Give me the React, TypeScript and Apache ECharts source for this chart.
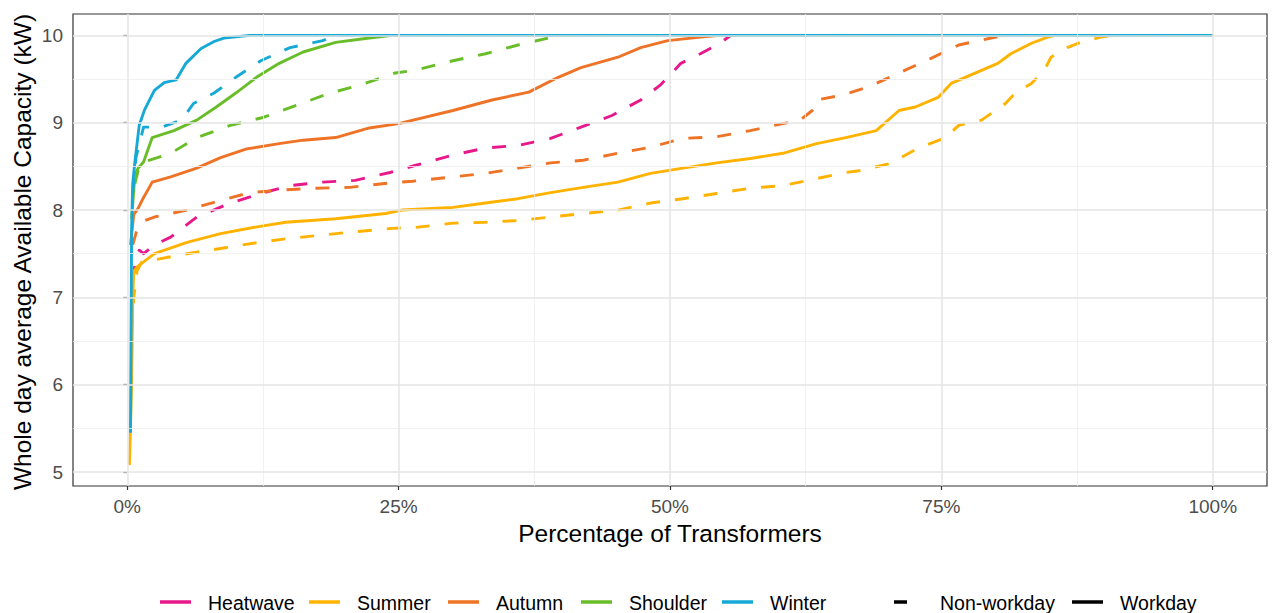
import React, { useEffect, useRef } from "react";
import * as echarts from "echarts";

type Pt = [number, number];

const xTickValues = [0, 25, 50, 75, 100];
const xMinorValues = [12.5, 37.5, 62.5, 87.5];
const yTickValues = [5, 6, 7, 8, 9, 10];
const yMinorValues = [5.5, 6.5, 7.5, 8.5, 9.5];

const heatwaveNonWorkday: Pt[] = [[0.5,7.2],[0.8,7.45],[1.1,7.54],[1.5,7.5],[2.5,7.6],[4.0,7.69],[6.4,7.92],[9.5,8.08],[12.3,8.19],[15,8.28],[18,8.32],[21,8.34],[24.2,8.43],[26.5,8.51],[30,8.63],[33,8.71],[36,8.74],[39,8.82],[41.8,8.95],[44.6,9.08],[47.3,9.26],[49.1,9.43],[51,9.68],[52.8,9.79],[54.6,9.91],[55.6,10],[100,10]];

const summerWorkday: Pt[] = [[0.2,5.08],[0.4,6.0],[0.5,7.0],[0.6,7.3],[0.9,7.35],[2.5,7.5],[5.5,7.63],[8.6,7.73],[11.6,7.8],[14.6,7.86],[19.2,7.9],[23.8,7.96],[25.3,8.0],[30,8.03],[33,8.08],[36,8.13],[39,8.2],[42,8.26],[45.2,8.32],[48.2,8.42],[51.2,8.48],[54.3,8.54],[57.4,8.59],[60.4,8.65],[63.5,8.76],[66.2,8.83],[69,8.91],[71.1,9.14],[72.6,9.18],[74.7,9.29],[75.9,9.45],[78.7,9.6],[80.2,9.68],[81.4,9.79],[83.3,9.91],[84.8,9.98],[85.5,10],[100,10]];

const summerNonWorkday: Pt[] = [[0.4,6.6],[0.6,7.0],[0.9,7.3],[1.3,7.4],[2.5,7.43],[5.5,7.5],[8.6,7.56],[11.6,7.62],[14.6,7.67],[17.7,7.71],[20.8,7.75],[24.4,7.79],[26.5,7.8],[30,7.85],[33,7.86],[36,7.88],[39,7.92],[42,7.96],[45.2,8.0],[48.2,8.08],[51.2,8.13],[54.3,8.19],[57.4,8.25],[60.4,8.28],[63.5,8.36],[66.2,8.43],[67.4,8.45],[70.2,8.53],[72.9,8.71],[75.4,8.83],[76.6,8.97],[78.7,9.03],[80.9,9.22],[81.8,9.34],[83.3,9.45],[84.5,9.6],[85.1,9.75],[86.6,9.86],[87.8,9.92],[89.7,9.98],[90.9,10],[100,10]];

const autumnWorkday: Pt[] = [[0.3,7.6],[0.6,7.95],[1.0,8.02],[1.4,8.12],[2.3,8.32],[4.0,8.38],[6.4,8.48],[8.6,8.6],[11,8.7],[14,8.76],[16.2,8.8],[19.2,8.83],[22.3,8.94],[25,8.99],[30,9.14],[33.6,9.26],[37,9.35],[39.7,9.52],[41.8,9.63],[45.2,9.75],[47.3,9.86],[49.8,9.94],[52.8,9.98],[54.6,10],[100,10]];

const autumnNonWorkday: Pt[] = [[0.5,7.6],[1.0,7.82],[1.6,7.88],[2.5,7.92],[5.5,8.0],[8.6,8.11],[11.3,8.2],[14.4,8.23],[17.4,8.25],[20.5,8.26],[24.2,8.31],[26.3,8.33],[30,8.38],[33,8.42],[36,8.48],[39,8.54],[42,8.57],[45.2,8.65],[48.2,8.72],[51.2,8.82],[54.3,8.84],[57.4,8.91],[60.4,8.99],[62,9.03],[63.1,9.14],[63.5,9.26],[65.6,9.31],[66.5,9.34],[68.3,9.41],[71.1,9.57],[74.1,9.74],[76.6,9.89],[79.6,9.97],[80.9,10],[100,10]];

const shoulderWorkday: Pt[] = [[0.4,7.9],[0.7,8.4],[1.0,8.48],[1.5,8.55],[2.3,8.83],[4.3,8.91],[6.4,9.03],[8.2,9.18],[10.0,9.34],[11.9,9.52],[14.0,9.68],[16.2,9.81],[19.2,9.92],[22.3,9.97],[24.4,10],[100,10]];

const shoulderNonWorkday: Pt[] = [[0.7,8.3],[1.0,8.45],[1.3,8.54],[4.0,8.65],[6.4,8.83],[9.5,8.97],[12.5,9.06],[15.6,9.2],[18.7,9.34],[21.4,9.43],[24.7,9.57],[26.5,9.6],[30,9.71],[33,9.79],[36,9.89],[38.8,9.97],[39.8,10],[100,10]];

const winterWorkday: Pt[] = [[0.3,5.45],[0.4,7.8],[0.5,8.3],[0.7,8.55],[1.1,8.97],[1.6,9.15],[2.5,9.37],[3.4,9.46],[4.5,9.49],[5.4,9.68],[6.8,9.85],[8.0,9.93],[8.9,9.97],[11.3,10],[100,10]];

const winterNonWorkday: Pt[] = [[0.5,8.2],[0.8,8.6],[1.1,8.75],[1.5,8.95],[3.2,8.95],[5.0,9.03],[6.1,9.22],[8.0,9.34],[10.0,9.52],[12.3,9.71],[15.0,9.86],[18.0,9.94],[19.2,10],[100,10]];

const seasonNames = ["Heatwave", "Summer", "Autumn", "Shoulder", "Winter"];
const seasonColors = ["#E7198A", "#FFB300", "#EE7326", "#69BD28", "#17A9D5"];
const dayTypeNames = ["Non-workday", "Workday"];

const FONT = "'Liberation Sans', Arial, Helvetica, sans-serif";
const DASH = [14, 15];

export default function App() {
  const ref = useRef<HTMLDivElement>(null);

  useEffect(() => {
    if (!ref.current) return;
    const chart = echarts.init(ref.current, undefined, { renderer: "svg" });

    const mk = (name: string, data: Pt[], color: string, dashed: boolean) => ({
      type: "line",
      name,
      data,
      showSymbol: false,
      symbol: "none",
      z: 3,
      lineStyle: { color, width: 2.9, type: dashed ? DASH : "solid", cap: "butt", join: "round" },
      silent: true,
    });

    const gridLines: any[] = [];
    xMinorValues.forEach((v) => gridLines.push({ xAxis: v, lineStyle: { color: "#EEEEEE", width: 0.8, type: "solid" } }));
    yMinorValues.forEach((v) => gridLines.push({ yAxis: v, lineStyle: { color: "#EEEEEE", width: 0.8, type: "solid" } }));
    xTickValues.forEach((v) => gridLines.push({ xAxis: v, lineStyle: { color: "#E4E4E4", width: 1.5, type: "solid" } }));
    yTickValues.forEach((v) => gridLines.push({ yAxis: v, lineStyle: { color: "#E4E4E4", width: 1.5, type: "solid" } }));

    const legendY = 602;
    const legendFont = 19.5;
    const legendKeys: any[] = [];
    const seasonTextX = [208, 357, 496, 629, 770];
    seasonNames.forEach((n, i) => {
      const kx = seasonTextX[i] - 48;
      legendKeys.push({
        type: "line",
        shape: { x1: kx, y1: legendY, x2: kx + 31, y2: legendY },
        style: { stroke: seasonColors[i], lineWidth: 3.5 },
      });
      legendKeys.push({
        type: "text",
        x: seasonTextX[i],
        y: legendY + 1,
        style: { text: n, fontSize: legendFont, fontFamily: FONT, fill: "#000", align: "left", verticalAlign: "middle" },
      });
    });
    legendKeys.push({
      type: "line",
      shape: { x1: 894, y1: legendY, x2: 907, y2: legendY },
      style: { stroke: "#000", lineWidth: 3.5 },
    });
    legendKeys.push({
      type: "text",
      x: 940,
      y: legendY + 1,
      style: { text: dayTypeNames[0], fontSize: legendFont, fontFamily: FONT, fill: "#000", align: "left", verticalAlign: "middle" },
    });
    legendKeys.push({
      type: "line",
      shape: { x1: 1072, y1: legendY, x2: 1103, y2: legendY },
      style: { stroke: "#000", lineWidth: 3.5 },
    });
    legendKeys.push({
      type: "text",
      x: 1120,
      y: legendY + 1,
      style: { text: dayTypeNames[1], fontSize: legendFont, fontFamily: FONT, fill: "#000", align: "left", verticalAlign: "middle" },
    });

    const option: any = {
      animation: false,
      backgroundColor: "#ffffff",
      grid: {
        left: 73,
        top: 14,
        right: 7,
        bottom: 127,
        show: true,
        borderColor: "#333333",
        borderWidth: 1.2,
        backgroundColor: "#ffffff",
        containLabel: false,
      },
      xAxis: {
        type: "value",
        min: -5,
        max: 105,
        axisLine: { show: false },
        splitLine: { show: false },
        axisTick: { show: true, customValues: xTickValues, length: 4, lineStyle: { color: "#333333", width: 1.2 } },
        axisLabel: {
          customValues: xTickValues,
          formatter: (v: number) => `${v}%`,
          color: "#4D4D4D",
          fontSize: 19,
          fontFamily: FONT,
          margin: 11,
        },
      },
      yAxis: {
        type: "value",
        min: 4.84,
        max: 10.245,
        axisLine: { show: false },
        splitLine: { show: false },
        axisTick: { show: true, customValues: yTickValues, length: 4, lineStyle: { color: "#333333", width: 1.2 } },
        axisLabel: {
          customValues: yTickValues,
          color: "#4D4D4D",
          fontSize: 19,
          fontFamily: FONT,
          margin: 10,
        },
      },
      series: [
        {
          type: "line",
          name: "grid",
          data: [],
          silent: true,
          z: 1,
          markLine: {
            silent: true,
            symbol: ["none", "none"],
            label: { show: false },
            emphasis: { disabled: true },
            data: gridLines,
          },
        },
        mk("Heatwave Non-workday", heatwaveNonWorkday, seasonColors[0], true),
        mk("Summer Non-workday", summerNonWorkday, seasonColors[1], true),
        mk("Summer Workday", summerWorkday, seasonColors[1], false),
        mk("Autumn Non-workday", autumnNonWorkday, seasonColors[2], true),
        mk("Autumn Workday", autumnWorkday, seasonColors[2], false),
        mk("Shoulder Non-workday", shoulderNonWorkday, seasonColors[3], true),
        mk("Shoulder Workday", shoulderWorkday, seasonColors[3], false),
        mk("Winter Non-workday", winterNonWorkday, seasonColors[4], true),
        mk("Winter Workday", winterWorkday, seasonColors[4], false),
      ],
      graphic: [
        {
          type: "text",
          x: 670,
          y: 533,
          style: { text: "Percentage of Transformers", fontSize: 24.5, fontFamily: FONT, fill: "#000", align: "center", verticalAlign: "middle" },
        },
        {
          type: "text",
          x: 22,
          y: 252,
          rotation: Math.PI / 2,
          style: { text: "Whole day average Available Capacity (kW)", fontSize: 24.5, fontFamily: FONT, fill: "#000", align: "center", verticalAlign: "middle" },
        },
        ...legendKeys,
      ],
    };

    chart.setOption(option);
    return () => chart.dispose();
  }, []);

  return (
    <div
      ref={ref}
      style={{ position: "fixed", left: 0, top: 0, width: 1274, height: 613, background: "#ffffff" }}
    />
  );
}
